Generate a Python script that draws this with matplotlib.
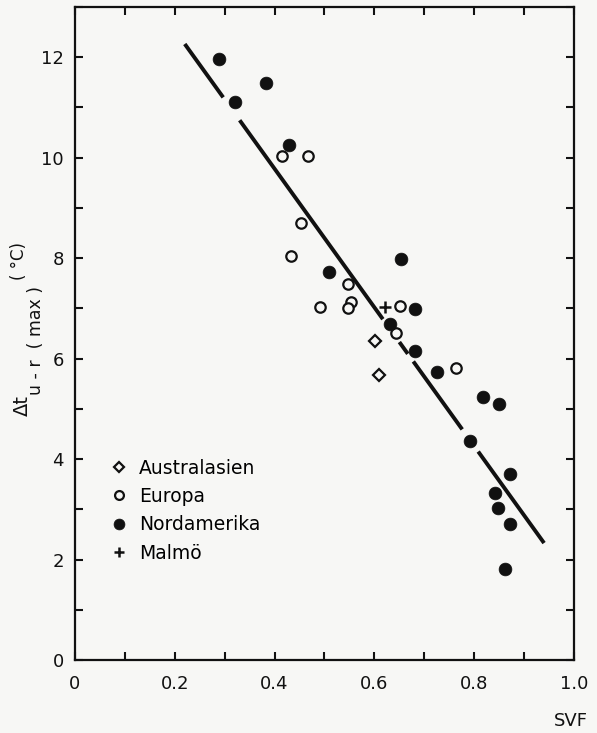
"""Urban heat island intensity against sky view factor."""

import matplotlib
matplotlib.use("Agg")
import matplotlib.pyplot as plt

# station values: sky view factor and maximum urban-rural temperature difference
australasia_svf = [0.601, 0.609]
australasia_dt = [6.35, 5.67]

europe_svf = [0.414, 0.466, 0.452, 0.432, 0.490, 0.547, 0.553, 0.547, 0.651, 0.644, 0.764]
europe_dt = [10.04, 10.03, 8.70, 8.04, 7.02, 7.48, 7.13, 7.00, 7.05, 6.51, 5.81]

north_america_svf = [0.289, 0.321, 0.383, 0.429, 0.510, 0.653, 0.682, 0.632, 0.681,
                     0.725, 0.817, 0.849, 0.791, 0.871, 0.841, 0.847, 0.872, 0.861]
north_america_dt = [11.97, 11.11, 11.49, 10.25, 7.72, 7.99, 6.99, 6.69, 6.15,
                    5.74, 5.24, 5.09, 4.36, 3.70, 3.33, 3.02, 2.71, 1.82]

malmo_svf = [0.621]
malmo_dt = [7.03]

# regression line dt = a + b * svf, drawn in pieces broken around the symbols
fit_intercept = 15.3
fit_slope = -13.8
fit_pieces = [(0.220, 0.297), (0.330, 0.617), (0.650, 0.667), (0.678, 0.776), (0.808, 0.940)]

x_ticks = [0.0, 0.2, 0.4, 0.6, 0.8, 1.0]
x_tick_labels = ["0", "0.2", "0.4", "0.6", "0.8", "1.0"]
y_ticks = [0, 2, 4, 6, 8, 10, 12]

paper = "#f7f7f5"
ink = "#111111"

plt.rcParams["font.family"] = ["DejaVu Sans"]

fig = plt.figure(figsize=(5.97, 7.33), dpi=100, facecolor=paper)
ax = fig.add_axes([0.1256, 0.0996, 0.8359, 0.8908], facecolor=paper)

for x0, x1 in fit_pieces:
    ax.plot([x0, x1], [fit_intercept + fit_slope * x0, fit_intercept + fit_slope * x1],
            color=ink, lw=2.8, solid_capstyle="butt", zorder=2)

ax.plot(australasia_svf, australasia_dt, ls="none", marker="D", ms=6.5, mfc=paper,
        mec=ink, mew=1.6, label="Australasien", zorder=3)
ax.plot(europe_svf, europe_dt, ls="none", marker="o", ms=7.5, mfc=paper,
        mec=ink, mew=1.6, label="Europa", zorder=3)
ax.plot(north_america_svf, north_america_dt, ls="none", marker="o", ms=9.2, mfc=ink,
        mec=ink, mew=0.5, label="Nordamerika", zorder=4)
ax.plot(malmo_svf, malmo_dt, ls="none", marker="+", ms=9, mec=ink, mew=1.8,
        label="Malmö", zorder=4)

ax.set_xlim(0, 1.0)
ax.set_ylim(0, 13)
ax.set_xticks(x_ticks)
ax.set_xticklabels(x_tick_labels)
ax.set_xticks([0.1, 0.3, 0.5, 0.7, 0.9], minor=True)
ax.set_yticks(y_ticks)
ax.set_yticks([1, 3, 5, 7, 9, 11, 13], minor=True)

for side in ax.spines.values():
    side.set_linewidth(1.6)
    side.set_color(ink)
ax.tick_params(which="both", direction="in", top=True, right=True, length=6,
               width=1.5, color=ink, labelsize=13, labelcolor=ink)
ax.tick_params(axis="x", which="major", pad=11)
ax.tick_params(axis="y", which="major", pad=8)

# y label built from three pieces: symbol, subscript and unit raised above it
fig.text(22 / 597, 1 - 416 / 733, "Δt", rotation=90, fontsize=14, color=ink,
         ha="center", va="bottom")
fig.text(36 / 597, 1 - 395 / 733, "u - r  ( max )", rotation=90, fontsize=12.5,
         color=ink, ha="center", va="bottom")
fig.text(19 / 597, 1 - 280 / 733, "( °C)", rotation=90, fontsize=12,
         color=ink, ha="center", va="bottom")

fig.text(0.956, 0.004, "SVF", fontsize=13, color=ink, ha="center", va="bottom")

ax.legend(loc="upper left", bbox_to_anchor=(0.055, 0.32), frameon=False,
          fontsize=13.5, markerscale=0.85, handlelength=1.0, handletextpad=0.55,
          labelspacing=0.5, borderaxespad=0)

fig.savefig("out.png", dpi=100, facecolor=paper)
